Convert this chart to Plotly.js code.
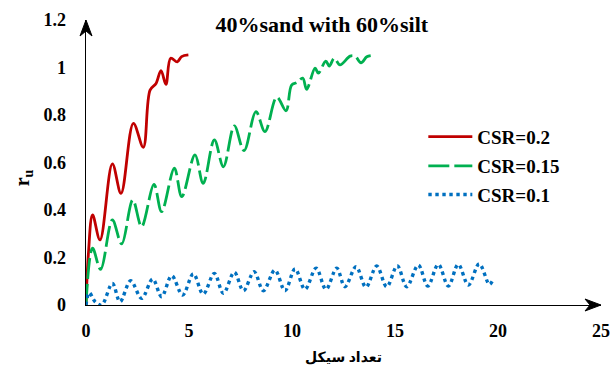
<!DOCTYPE html>
<html>
<head>
<meta charset="utf-8">
<script src="https://cdn.plot.ly/plotly-3.0.1.min.js"></script>
<style>html,body{margin:0;padding:0;background:#fff;}#chart{width:614px;height:365px;}</style>
</head>
<body>
<div id="chart"></div>
<script>
// CSR = 0.2
const cycles02 = [0, 0.12, 0.32, 0.68, 1.28, 1.70, 2.30, 2.78, 3.11, 3.40, 3.64, 3.88, 4.11, 4.43, 4.64, 4.97];
const ru02     = [0, 0.22, 0.379, 0.274, 0.594, 0.47, 0.765, 0.664, 0.905, 0.933, 0.987, 0.929, 1.039, 1.024, 1.046, 1.053];

// CSR = 0.15
const cycles015 = [0, 0.32, 0.71, 1.28, 1.73, 2.27, 2.70, 3.30, 3.67, 4.29, 4.65, 5.29, 5.69, 6.23, 6.67, 7.20, 7.67, 8.25, 8.69, 9.26, 9.71, 9.98, 10.23, 10.52, 10.71, 11.12, 11.28, 11.64, 11.81, 12.05, 12.33, 12.82, 13.06, 13.35, 13.63, 13.82];
const ru015     = [0, 0.239, 0.150, 0.358, 0.257, 0.442, 0.330, 0.508, 0.393, 0.576, 0.456, 0.632, 0.512, 0.695, 0.582, 0.754, 0.650, 0.814, 0.730, 0.875, 0.818, 0.926, 0.936, 0.955, 0.908, 0.997, 0.976, 1.027, 1.006, 1.039, 1.011, 1.048, 1.048, 1.020, 1.045, 1.050];

// CSR = 0.1
const cycles01 = [0, 0.16, 0.44, 0.76, 1.28, 1.65, 2.17, 2.70, 3.24, 3.67, 4.16, 4.69, 5.21, 5.69, 6.23, 6.67, 7.20, 7.64, 8.16, 8.61, 9.17, 9.66, 10.15, 10.63, 11.17, 11.65, 12.17, 12.57, 13.11, 13.59, 14.11, 14.60, 15.11, 15.57, 16.13, 16.59, 17.10, 17.59, 18.07, 18.56, 19.09, 19.58, 19.77];
const ru01     = [0, 0.052, 0.014, 0.0, 0.091, 0.014, 0.102, 0.028, 0.109, 0.035, 0.123, 0.042, 0.131, 0.046, 0.133, 0.049, 0.138, 0.060, 0.140, 0.060, 0.147, 0.060, 0.152, 0.066, 0.155, 0.066, 0.155, 0.077, 0.161, 0.075, 0.164, 0.077, 0.165, 0.077, 0.168, 0.080, 0.171, 0.080, 0.171, 0.084, 0.173, 0.087, 0.109];

const seriesNames = ['CSR=0.2', 'CSR=0.15', 'CSR=0.1'];
const xTicks = [0, 5, 10, 15, 20, 25];
const yTicks = [0, 0.2, 0.4, 0.6, 0.8, 1, 1.2];

const serif = 'Liberation Serif, Times New Roman, serif';

const traces = [
  {x: cycles02, y: ru02, name: seriesNames[0], mode: 'lines', legend: 'legend',
   line: {color: '#C00000', width: 2.8, shape: 'spline', smoothing: 1}},
  {x: cycles015, y: ru015, name: seriesNames[1], mode: 'lines', legend: 'legend2',
   line: {color: '#00B050', width: 2.8, shape: 'spline', smoothing: 1, dash: '21px,5px'}},
  {x: cycles01, y: ru01, name: seriesNames[2], mode: 'lines', legend: 'legend3',
   line: {color: '#0070C0', width: 3.4, shape: 'spline', smoothing: 1, dash: '3.4px,3.6px'}}
];

const legBase = {xref: 'paper', yref: 'paper', x: 0.655, xanchor: 'left', yanchor: 'middle',
  bgcolor: 'rgba(0,0,0,0)', borderwidth: 0, itemwidth: 44,
  font: {family: serif, size: 19, color: '#000', weight: 700}};

// arrowheads at the ends of the axes (pixel paths anchored at the axis ends)
const arrowX = 'M-16,-6 L0,0 L-16,6 L-11,0 Z';
const arrowY = 'M-6,-16 L0,0 L6,-16 L0,-11 Z';

const layout = {
  width: 614, height: 365,
  margin: {l: 86, r: 13, t: 20, b: 60},
  paper_bgcolor: '#fff', plot_bgcolor: '#fff',
  showlegend: true,
  title: {text: '40%sand with 60%silt', x: 0.524, xanchor: 'center', y: 0.934, yanchor: 'middle',
    font: {family: serif, size: 22, color: '#000', weight: 700}},
  xaxis: {range: [0, 25], tickvals: xTicks, ticks: '', showgrid: false, zeroline: false,
    showline: true, linecolor: '#000', linewidth: 1.4, ticklabelstandoff: 9,
    tickfont: {family: serif, size: 18, color: '#000', weight: 700},
    title: {text: 'تعداد سیکل', standoff: 12, font: {family: 'Liberation Serif, DejaVu Sans, serif', size: 14, color: '#000', weight: 700}}},
  yaxis: {range: [0, 1.2], tickvals: yTicks, ticks: '', showgrid: false, zeroline: false,
    showline: true, linecolor: '#000', linewidth: 1.4, ticklabelstandoff: 15,
    tickfont: {family: serif, size: 18, color: '#000', weight: 700}},
  legend: Object.assign({}, legBase, {y: 0.5905}),
  legend2: Object.assign({}, legBase, {y: 0.4877}),
  legend3: Object.assign({}, legBase, {y: 0.387}),
  shapes: [
    {type: 'path', xref: 'paper', yref: 'paper', xsizemode: 'pixel', ysizemode: 'pixel', xanchor: 1, yanchor: 0,
     path: arrowX, fillcolor: '#000', line: {color: '#000', width: 1}},
    {type: 'path', xref: 'paper', yref: 'paper', xsizemode: 'pixel', ysizemode: 'pixel', xanchor: 0, yanchor: 1,
     path: arrowY, fillcolor: '#000', line: {color: '#000', width: 1}}
  ],
  annotations: [
    {xref: 'paper', yref: 'paper', x: -0.122, y: 0.445, text: 'r<sub>u</sub>', showarrow: false,
     textangle: -90, xanchor: 'center', yanchor: 'middle',
     font: {family: serif, size: 20, color: '#000', weight: 700}}
  ]
};

Plotly.newPlot('chart', traces, layout, {displayModeBar: false, staticPlot: true});
</script>
</body>
</html>
